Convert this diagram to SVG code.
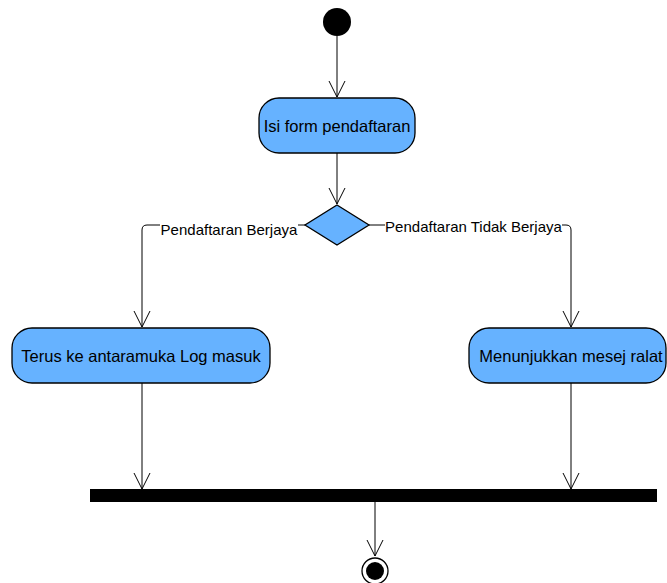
<svg xmlns="http://www.w3.org/2000/svg" width="667" height="583" viewBox="0 0 667 583">
<defs>
<marker id="open" viewBox="0 0 20 20" refX="18" refY="10" markerWidth="20" markerHeight="20" markerUnits="userSpaceOnUse" orient="auto">
<path d="M2,2 L18,10 L2,18" fill="none" stroke="#000" stroke-width="1"/>
</marker>
<style>
.act{fill:#66b2ff;stroke:#000;stroke-width:1.3}
.t{font-family:"Liberation Sans",Arial,sans-serif;font-size:16.5px;fill:#000;text-anchor:middle;dominant-baseline:central}
.lbl{font-family:"Liberation Sans",Arial,sans-serif;font-size:15px;fill:#000;text-anchor:middle;dominant-baseline:central}
.c{fill:none;stroke:#000;stroke-width:1}
</style>
</defs>
<rect width="667" height="583" fill="#fff"/>
<g id="connectors">
<path class="c" d="M337,36 L337,97" marker-end="url(#open)"/>
<path class="c" d="M337,153 L337,204" marker-end="url(#open)"/>
<path class="c" d="M305,225 L147,225 Q142,225 142,230 L142,327" marker-end="url(#open)"/>
<path class="c" d="M369,225 L566,225 Q571,225 571,230 L571,327" marker-end="url(#open)"/>
<path class="c" d="M142,383 L142,489" marker-end="url(#open)"/>
<path class="c" d="M571,383 L571,489" marker-end="url(#open)"/>
<path class="c" d="M375,502 L375,556" marker-end="url(#open)"/>
<rect x="160" y="220" width="138" height="18" fill="#fff"/>
<text class="lbl" x="229" y="229">Pendaftaran Berjaya</text>
<rect x="385" y="217" width="177" height="18" fill="#fff"/>
<text class="lbl" x="473.5" y="226">Pendaftaran Tidak Berjaya</text>
</g>
<g id="start">
<circle cx="337" cy="22" r="14" fill="#000"/>
</g>
<g id="isi-form">
<rect class="act" x="259" y="98" width="156" height="55" rx="20" ry="20"/>
<text class="t" x="337" y="126">Isi form pendaftaran</text>
</g>
<g id="decision">
<polygon class="act" points="337,205 369,225 337,245 305,225"/>
</g>
<g id="terus">
<rect class="act" x="12" y="328" width="258" height="55" rx="20" ry="20"/>
<text class="t" x="141" y="356">Terus ke antaramuka Log masuk</text>
</g>
<g id="mesej">
<rect class="act" x="469" y="328" width="197" height="55" rx="20" ry="20"/>
<text class="t" x="571" y="356">Menunjukkan mesej ralat</text>
</g>
<g id="join">
<rect x="90" y="489" width="567" height="13" fill="#000"/>
</g>
<g id="end">
<circle cx="375" cy="571" r="13" fill="#fff" stroke="#000" stroke-width="1.3"/>
<circle cx="375" cy="571" r="9" fill="#000"/>
</g>
</svg>
